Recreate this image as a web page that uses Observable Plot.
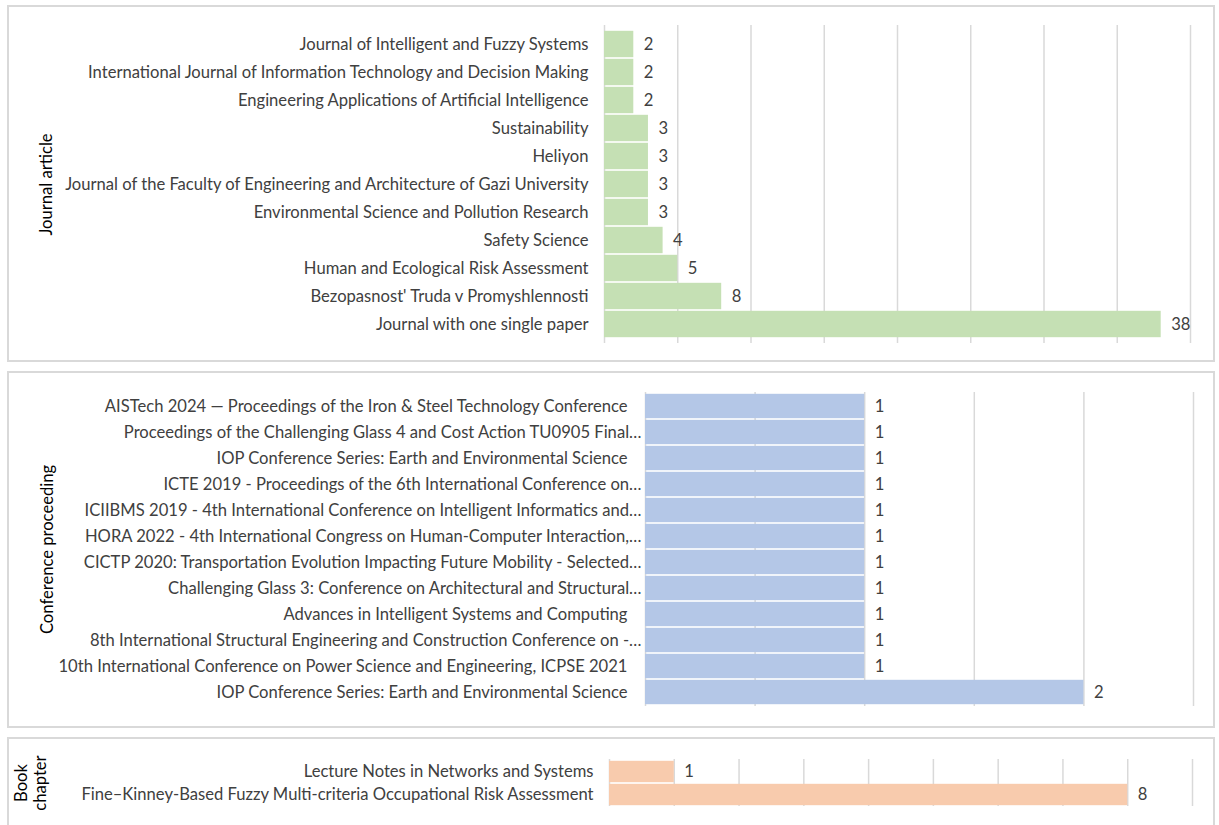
<!DOCTYPE html>
<html>
<head>
<meta charset="utf-8">
<script src="https://cdn.jsdelivr.net/npm/d3@7"></script>
<script src="https://cdn.jsdelivr.net/npm/@observablehq/plot@0.6"></script>
<style>
  html, body { margin: 0; padding: 0; background: #fff; overflow: hidden; width: 1219px; height: 825px; }
  .panel { position: absolute; left: 7px; width: 1208px; box-sizing: border-box; border: 2px solid #d9d9d9; background: #fff; }
  .panel svg { position: absolute; left: 0; top: 0; }
</style>
</head>
<body>
<div id="p1" class="panel" style="top:5px;height:357px"></div>
<div id="p2" class="panel" style="top:371px;height:357px"></div>
<div id="p3" class="panel" style="top:737px;height:91px"></div>
<script>
// ---- data ----
const journalNames = [
  "Journal of Intelligent and Fuzzy Systems",
  "International Journal of Information Technology and Decision Making",
  "Engineering Applications of Artificial Intelligence",
  "Sustainability",
  "Heliyon",
  "Journal of the Faculty of Engineering and Architecture of Gazi University",
  "Environmental Science and Pollution Research",
  "Safety Science",
  "Human and Ecological Risk Assessment",
  "Bezopasnost' Truda v Promyshlennosti",
  "Journal with one single paper"
];
const journalCounts = [2, 2, 2, 3, 3, 3, 3, 4, 5, 8, 38];

const confNames = [
  "AISTech 2024 — Proceedings of the Iron & Steel Technology Conference",
  "Proceedings of the Challenging Glass 4 and Cost Action TU0905 Final…",
  "IOP Conference Series: Earth and Environmental Science",
  "ICTE 2019 - Proceedings of the 6th International Conference on…",
  "ICIIBMS 2019 - 4th International Conference on Intelligent Informatics and…",
  "HORA 2022 - 4th International Congress on Human-Computer Interaction,…",
  "CICTP 2020: Transportation Evolution Impacting Future Mobility - Selected…",
  "Challenging Glass 3: Conference on Architectural and Structural…",
  "Advances in Intelligent Systems and Computing",
  "8th International Structural Engineering and Construction Conference on -…",
  "10th International Conference on Power Science and Engineering, ICPSE 2021",
  "IOP Conference Series: Earth and Environmental Science"
];
const confCounts = [1, 1, 1, 1, 1, 1, 1, 1, 1, 1, 1, 2];

const bookNames = [
  "Lecture Notes in Networks and Systems",
  "Fine–Kinney-Based Fuzzy Multi-criteria Occupational Risk Assessment"
];
const bookCounts = [1, 8];

const groupTitles = ["Journal article", "Conference proceeding", "Book\nchapter"];

// ---- rendering ----
const FONT = "Lato, 'Open Sans', sans-serif";
// pick a font size so the longest journal label spans like the reference
const cv = document.createElement("canvas").getContext("2d");
cv.font = "15px Lato";
const w15 = cv.measureText(journalNames[5]).width;
let FS = Math.max(12, Math.min(17, 15 * 527 / w15));
FS = Math.round(FS * 10) / 10;
const TXT = "#404040";

function panel(el, names, counts, color, title, cfg) {
  const data = names.map((name, i) => ({i, name, count: counts[i]}));
  const trunc = data.filter(d => d.name.endsWith("…"));
  const full = data.filter(d => !d.name.endsWith("…"));
  const chart = Plot.plot({
    width: 1204,
    height: cfg.height,
    marginLeft: cfg.ml, marginRight: cfg.mr, marginTop: cfg.mt, marginBottom: cfg.mb,
    style: {fontFamily: FONT, fontSize: FS + "px", color: TXT, background: "transparent"},
    x: {domain: [0, cfg.max], axis: null},
    y: {domain: d3.range(data.length), axis: null, padding: 0},
    marks: [
      Plot.gridX(d3.range(0, cfg.max + 1e-9, cfg.step), {stroke: "#d9d9d9", strokeOpacity: 1, strokeWidth: 1.5}),
      Plot.barX(data, {x: "count", y: "i", fill: color, insetTop: 0.8, insetBottom: 0.8}),
      Plot.text(full, {y: "i", text: "name", frameAnchor: "left", textAnchor: "end", dx: -cfg.pad, fill: TXT}),
      Plot.text(trunc, {y: "i", text: "name", frameAnchor: "left", textAnchor: "end", dx: -cfg.padT, fill: TXT}),
      Plot.text(data, {x: "count", y: "i", text: d => String(d.count), textAnchor: "start", dx: 10, fill: TXT}),
      Plot.text([title], {frameAnchor: "left", textAnchor: "middle", lineAnchor: "middle", rotate: -90, dx: -cfg.titleDx, fill: "#000", lineHeight: 1.15})
    ]
  });
  document.getElementById(el).appendChild(chart);
}

panel("p1", journalNames, journalCounts, "#c5e0b4", groupTitles[0],
  {height: 353, ml: 595, mr: 23, mt: 18, mb: 17, max: 40, step: 5, pad: 16, padT: 16, titleDx: 559});
panel("p2", confNames, confCounts, "#b4c7e7", groupTitles[1],
  {height: 353, ml: 636, mr: 20, mt: 19, mb: 20, max: 2.5, step: 0.5, pad: 18, padT: 4, titleDx: 599});
panel("p3", bookNames, bookCounts, "#f8cbad", groupTitles[2],
  {height: 87, ml: 600, mr: 21, mt: 20, mb: 20, max: 9, step: 1, pad: 16, padT: 16, titleDx: 579});
</script>
</body>
</html>
